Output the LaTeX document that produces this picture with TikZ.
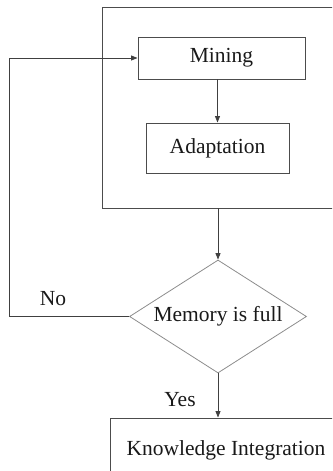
\documentclass[tikz,border=0pt]{standalone}
\usepackage{fontspec}
\setmainfont{Liberation Serif}
\usetikzlibrary{shapes.geometric,arrows.meta}

\tikzset{
  box/.style={draw=black!70, line width=0.9pt, rectangle, inner sep=0pt},
  decision/.style={draw=black!45, line width=0.8pt, diamond, inner sep=0pt},
  txt/.style={font=\fontsize{21.5}{26}\selectfont, inner sep=0pt, text=black!90},
  flow/.style={draw=black!75, line width=0.9pt, -{Triangle[length=6.5pt,width=5pt]}},
  plain/.style={draw=black!75, line width=0.9pt},
}

\begin{document}
\begin{tikzpicture}[x=1pt, y=-1pt]
  \useasboundingbox (0,0) rectangle (332,471);
  \clip (0,0) rectangle (332,471);

  % frame around the mining / adaptation stage
  \node[box, minimum width=243pt, minimum height=201pt] (stage) at (223.5,107.5) {};

  % process boxes
  \node[box, minimum width=167pt, minimum height=42pt, txt] (mining) at (221.5,58) {Mining};
  \node[box, minimum width=143pt, minimum height=50pt, txt] (adapt) at (217.5,148) {Adaptation};

  % decision
  \node[decision, minimum width=177pt, minimum height=113pt] (dec) at (218,316.5) {};
  \node[txt] (dectext) at (dec.center) {Memory is full};

  % final box (runs past the page edges)
  \node[box, minimum width=240pt, minimum height=66pt] (ki) at (230,451) {};
  \node[txt] (kitext) at (226,450) {Knowledge Integration};

  % labels
  \node[txt] (no) at (53,299) {No};
  \node[txt] (yes) at (180,400) {Yes};

  % connectors
  \draw[flow] (mining.south -| adapt.north) -- (adapt.north);
  \draw[flow] (dec.north |- stage.south) -- (dec.north);
  \draw[flow] (dec.south) -- (dec.south |- ki.north);
  \coordinate (back) at (9,316.5);
  \draw[flow] (dec.west) -- (back) |- (mining.west);
\end{tikzpicture}
\end{document}
